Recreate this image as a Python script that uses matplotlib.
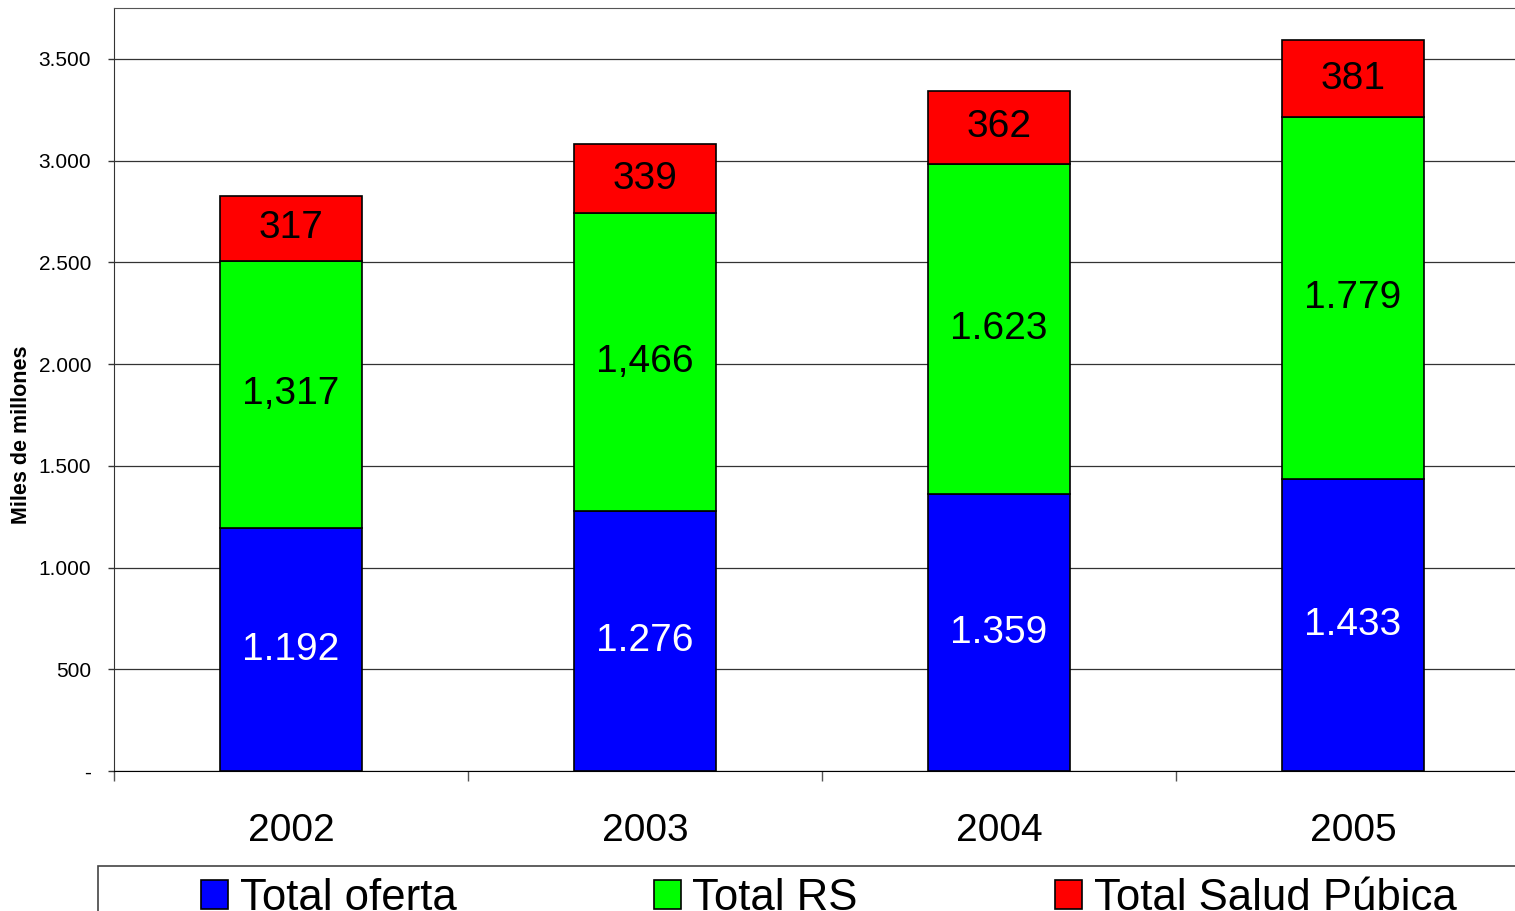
import matplotlib.pyplot as plt
from matplotlib.patches import Rectangle

plt.rcParams['font.family'] = ['Liberation Sans', 'DejaVu Sans']

years = ['2002', '2003', '2004', '2005']
total_oferta = [1192, 1276, 1359, 1433]
total_rs = [1317, 1466, 1623, 1779]
total_salud = [317, 339, 362, 381]

oferta_labels = ['1.192', '1.276', '1.359', '1.433']
rs_labels = ['1,317', '1,466', '1.623', '1.779']
salud_labels = ['317', '339', '362', '381']

y_ticks = [0, 500, 1000, 1500, 2000, 2500, 3000, 3500]
y_tick_labels = ['-', '500', '1.000', '1.500', '2.000', '2.500', '3.000', '3.500']

fig = plt.figure(figsize=(15.15, 9.11), dpi=100)
ax = fig.add_axes([114 / 1515, 140 / 911, 1416 / 1515, 763 / 911])

x = list(range(len(years)))
w = 0.4
bottom_rs = total_oferta
bottom_salud = [a + b for a, b in zip(total_oferta, total_rs)]

b1 = ax.bar(x, total_oferta, w, color='#0000FF', edgecolor='black', linewidth=1.2,
            label='Total oferta', zorder=3)
b2 = ax.bar(x, total_rs, w, bottom=bottom_rs, color='#00FF00', edgecolor='black',
            linewidth=1.2, label='Total RS', zorder=3)
b3 = ax.bar(x, total_salud, w, bottom=bottom_salud, color='#FF0000', edgecolor='black',
            linewidth=1.2, label='Total Salud Púbica', zorder=3)

# etiquetas dentro de las barras
for i in x:
    ax.text(i, total_oferta[i] / 2, oferta_labels[i], ha='center', va='center',
            fontsize=28, color='white', zorder=4)
    ax.text(i, bottom_rs[i] + total_rs[i] / 2, rs_labels[i], ha='center', va='center',
            fontsize=28, color='black', zorder=4)
    ax.text(i, bottom_salud[i] + total_salud[i] / 2, salud_labels[i], ha='center',
            va='center', fontsize=28, color='black', zorder=4)

ax.set_ylim(0, 3750)
ax.set_xlim(-0.5, 3.5)
ax.set_yticks(y_ticks)
ax.set_yticklabels(y_tick_labels, fontsize=15)
ax.tick_params(axis='y', direction='out', length=4.5, width=1, pad=12, color='#333333')
ax.grid(axis='y', color='#333333', linewidth=0.9, zorder=0)

ax.set_xticks(x)
ax.set_xticklabels(years, fontsize=28)
ax.tick_params(axis='x', which='major', length=0, pad=30)
ax.set_xticks([-0.5, 0.5, 1.5, 2.5, 3.5], minor=True)
ax.tick_params(axis='x', which='minor', direction='out', length=7, width=1, color='#555555')

ax.spines['right'].set_visible(False)
ax.spines['top'].set_color('#555555')
ax.spines['left'].set_color('#333333')
ax.spines['bottom'].set_color('black')

fig.text(22 / 1515, 1 - 435 / 911, 'Miles de millones', rotation=90, fontsize=15.5,
         fontweight='bold', ha='center', va='center')

# recuadro de la leyenda
fig.patches.append(Rectangle((98 / 1515, -0.05), 1.0, 0.05 + 45 / 911,
                             transform=fig.transFigure, fill=False,
                             edgecolor='#444444', linewidth=1.2))
fig.legend(handles=[b1, b2, b3], loc='upper left', ncol=3, frameon=False,
           bbox_to_anchor=(201 / 1515, 1 - 878 / 911), borderaxespad=0, borderpad=0,
           fontsize=31.5, handlelength=0.62, handleheight=0.62, handletextpad=0.27,
           columnspacing=4.5)

fig.savefig('out.png', dpi=100)
